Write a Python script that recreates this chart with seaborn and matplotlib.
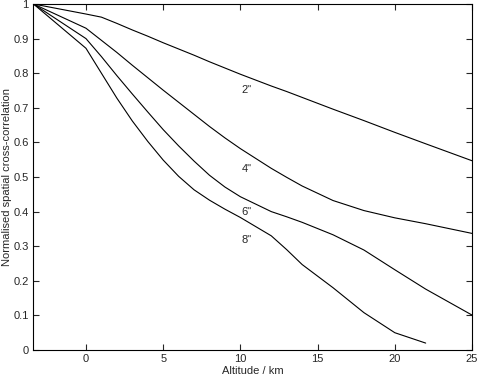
import numpy as np
import pandas as pd
import matplotlib
matplotlib.use("Agg")
import matplotlib.pyplot as plt
import seaborn as sns

# altitude grid (km) and correlation curves
altitude = [-3.4, 0, 1, 2, 3, 4, 5, 6, 7, 8, 9, 10, 12, 13, 14, 16, 18, 20, 22, 25]

corr_2 = [1.0, 0.971, 0.962, 0.944, 0.925, 0.907, 0.888, 0.870, 0.852, 0.833, 0.815, 0.797,
          0.763, 0.747, 0.730, 0.696, 0.663, 0.629, 0.596, 0.547]
corr_4 = [1.0, 0.930, 0.895, 0.860, 0.823, 0.787, 0.751, 0.716, 0.681, 0.646, 0.613, 0.582,
          0.525, 0.499, 0.474, 0.432, 0.403, 0.382, 0.365, 0.337]
corr_6 = [1.0, 0.900, 0.848, 0.793, 0.740, 0.688, 0.637, 0.590, 0.546, 0.505, 0.471, 0.443,
          0.400, 0.385, 0.369, 0.333, 0.289, 0.232, 0.176, 0.101]
# 8" curve stops at 22 km
altitude_8 = [-3.4, 0, 1, 2, 3, 4, 5, 6, 7, 8, 9, 10, 12, 13, 14, 16, 18, 20, 22]
corr_8 = [1.0, 0.872, 0.800, 0.728, 0.662, 0.603, 0.549, 0.502, 0.463, 0.433, 0.407, 0.383,
          0.330, 0.290, 0.247, 0.180, 0.108, 0.050, 0.020]

labels = ['2"', '4"', '6"', '8"']
label_x = [10.4, 10.4, 10.4, 10.4]
label_y = [0.751, 0.522, 0.398, 0.318]

sns.set_style("ticks")
plt.rcParams['font.family'] = ['Liberation Sans', 'DejaVu Sans']
plt.rcParams['xtick.direction'] = 'in'
plt.rcParams['ytick.direction'] = 'in'

fig = plt.figure(figsize=(4.79, 3.77), dpi=100)
ax = fig.add_axes([0.0689, 0.0716, 0.9165, 0.9178])

for x, y in [(altitude, corr_2), (altitude, corr_4), (altitude, corr_6), (altitude_8, corr_8)]:
    sns.lineplot(x=x, y=y, color='black', linewidth=0.8, sort=False, estimator=None, ax=ax)

for lab, lx, ly in zip(labels, label_x, label_y):
    ax.text(lx, ly, lab, fontsize=8, ha='center', va='center')

ax.set_xlim(-3.43, 25)
ax.set_ylim(0, 1)
ax.set_xticks([0, 5, 10, 15, 20, 25])
yt = np.round(np.arange(0, 1.01, 0.1), 1)
ax.set_yticks(yt)
ax.set_yticklabels(['0' if v == 0 else ('1' if v == 1 else f'{v:g}') for v in yt])
ax.tick_params(axis='both', direction='in', labelsize=8, length=4, width=0.8,
               top=True, right=True, pad=3)
for s in ax.spines.values():
    s.set_visible(True)
    s.set_linewidth(0.8)
    s.set_color('black')

ax.set_xlabel('Altitude / km', fontsize=8, labelpad=1)
ax.set_ylabel('Normalised spatial cross-correlation', fontsize=8, labelpad=1)

fig.savefig('out.png', dpi=100)
